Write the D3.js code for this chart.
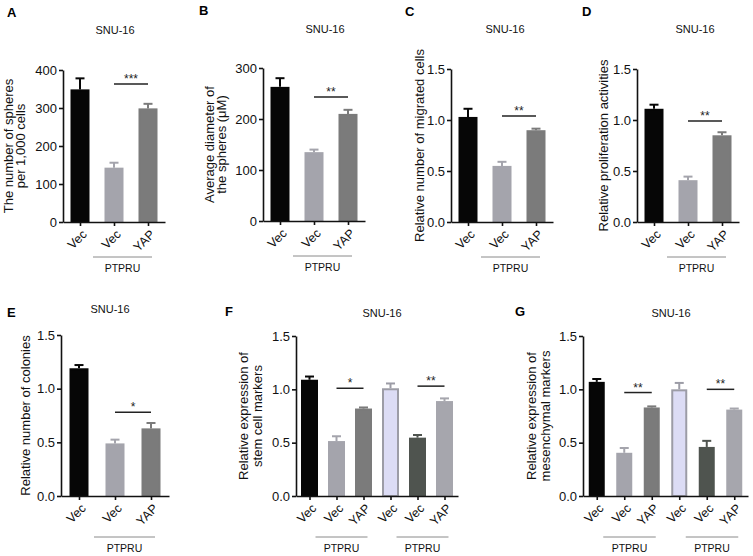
<!DOCTYPE html>
<html>
<head>
<meta charset="utf-8">
<script src="https://cdn.jsdelivr.net/npm/d3@7"></script>
<style>
  body { margin: 0; background: #fff; }
  svg { display: block; }
</style>
</head>
<body>
<div class="figure"></div>
<script>
// ---- data ----
const cats3 = ['Vec', 'Vec', 'YAP'];
const cats6 = ['Vec', 'Vec', 'YAP', 'Vec', 'Vec', 'YAP'];

const spheresMean = [349, 143, 299];
const spheresErr = [29, 13, 12];
const diameterMean = [263, 135, 210];
const diameterErr = [17, 5, 8];
const migratedMean = [1.03, 0.55, 0.90];
const migratedErr = [0.08, 0.04, 0.015];
const prolifMean = [1.11, 0.41, 0.85];
const prolifErr = [0.04, 0.035, 0.03];
const coloniesMean = [1.19, 0.49, 0.63];
const coloniesErr = [0.03, 0.035, 0.05];
const stemMean = [1.09, 0.515, 0.82, 1.01, 0.547, 0.89];
const stemErr = [0.03, 0.045, 0.01, 0.045, 0.025, 0.025];
const mesenMean = [1.07, 0.405, 0.83, 1.0, 0.46, 0.81];
const mesenErr = [0.027, 0.045, 0.01, 0.06, 0.057, 0.01];

const ticks400 = [0, 100, 200, 300, 400];
const ticks300 = [0, 100, 200, 300];
const ticks15 = [0, 0.5, 1.0, 1.5];

// significance: [bar a, bar b, y value, mark]
const sigA = [[1, 2, 363, '***']];
const sigB = [[1, 2, 243, '**']];
const sigC = [[1, 2, 1.04, '**']];
const sigD = [[1, 2, 0.99, '**']];
const sigE = [[1, 2, 0.78, '*']];
const sigF = [[1, 2, 1.01, '*'], [4, 5, 1.03, '**']];
const sigG = [[1, 2, 0.97, '**'], [4, 5, 1.0, '**']];

const groupLabel = 'PTPRU';
const groups3 = [[1, 2]];
const groups6 = [[1, 2], [4, 5]];

const title = 'SNU-16';

// ---- styles ----
const FONT = '"Liberation Sans", Arial, Helvetica, sans-serif';
const fills = ['#060606', '#a4a4ac', '#7b7b7b', '#dcdcf5', '#4f544f', '#a6a6ad'];
const strokes = ['#060606', '#a4a4ac', '#7b7b7b', '#9c9ca6', '#4f544f', '#a6a6ad'];

const panels = [
  { letter: 'A', lx: 7, ly: 17, cats: cats3, mean: spheresMean, err: spheresErr, ticks: ticks400, fmt: d3.format('d'),
    x: 63, top: 70, bottom: 222, step: 34, barW: 19, tx: 115, ty: 34, sig: sigA, groups: groups3, gOff: 35,
    ylab: [['The number of spheres', -50], ['per 1,000 cells', -38]] },
  { letter: 'B', lx: 199, ly: 15, cats: cats3, mean: diameterMean, err: diameterErr, ticks: ticks300, fmt: d3.format('d'),
    x: 263, top: 68, bottom: 221, step: 34, barW: 19, tx: 325, ty: 33, sig: sigB, groups: groups3, gOff: 35,
    ylab: [['Average diameter of', -49], ['the spheres (\u03bcM)', -37]] },
  { letter: 'C', lx: 405, ly: 16, cats: cats3, mean: migratedMean, err: migratedErr, ticks: ticks15, fmt: d3.format('.1f'),
    x: 451, top: 69, bottom: 222, step: 34, barW: 19, tx: 505, ty: 33, sig: sigC, groups: groups3, gOff: 35,
    ylab: [['Relative number of migrated cells', -27]] },
  { letter: 'D', lx: 582, ly: 16, cats: cats3, mean: prolifMean, err: prolifErr, ticks: ticks15, fmt: d3.format('.1f'),
    x: 637, top: 69, bottom: 222, step: 34, barW: 19, tx: 695, ty: 33, sig: sigD, groups: groups3, gOff: 35,
    ylab: [['Relative proliferation activities', -29]] },
  { letter: 'E', lx: 7, ly: 317, cats: cats3, mean: coloniesMean, err: coloniesErr, ticks: ticks15, fmt: d3.format('.1f'),
    x: 61, top: 335, bottom: 496, step: 36, barW: 19, tx: 110, ty: 313, sig: sigE, groups: groups3, gOff: 41,
    ylab: [['Relative number of colonies', -31]] },
  { letter: 'F', lx: 225, ly: 316, cats: cats6, mean: stemMean, err: stemErr, ticks: ticks15, fmt: d3.format('.1f'),
    x: 296, top: 336, bottom: 496, step: 27, barW: 17, tx: 382, ty: 317, sig: sigF, groups: groups6, gOff: 41,
    ylab: [['Relative expression of', -48], ['stem cell markers', -34]] },
  { letter: 'G', lx: 515, ly: 316, cats: cats6, mean: mesenMean, err: mesenErr, ticks: ticks15, fmt: d3.format('.1f'),
    x: 583, top: 336, bottom: 496, step: 27.5, barW: 16, tx: 671, ty: 317, sig: sigG, groups: groups6, gOff: 41,
    ylab: [['Relative expression of', -47], ['mesenchymal markers', -33]] }
];

const svg = d3.select('.figure').append('svg')
  .attr('width', 753)
  .attr('height', 556)
  .style('font-family', FONT);

const drawPanel = p => {
  const n = p.cats.length;
  const g = svg.append('g');

  const x = d3.scalePoint()
    .domain(d3.range(n))
    .range([p.x, p.x + p.step * n])
    .padding(0.5);

  const y = d3.scaleLinear()
    .domain([0, d3.max(p.ticks)])
    .range([p.bottom, p.top]);

  // letter + title
  g.append('text').attr('x', p.lx).attr('y', p.ly)
    .attr('font-size', 13).attr('font-weight', 'bold').text(p.letter);
  g.append('text').attr('x', p.tx).attr('y', p.ty)
    .attr('text-anchor', 'middle').attr('font-size', 11).attr('fill', '#111').text(title);

  // bars with upper error bars
  p.mean.forEach((m, i) => {
    const cx = x(i);
    g.append('line')
      .attr('x1', cx).attr('x2', cx)
      .attr('y1', y(m)).attr('y2', y(m + p.err[i]))
      .attr('stroke', strokes[i]).attr('stroke-width', 2);
    g.append('line')
      .attr('x1', cx - 4.5).attr('x2', cx + 4.5)
      .attr('y1', y(m + p.err[i])).attr('y2', y(m + p.err[i]))
      .attr('stroke', strokes[i]).attr('stroke-width', 2);
    g.append('rect')
      .attr('x', cx - p.barW / 2 + 1)
      .attr('y', y(m) + 1)
      .attr('width', p.barW - 2)
      .attr('height', p.bottom - y(m) - 1)
      .attr('fill', fills[i])
      .attr('stroke', strokes[i])
      .attr('stroke-width', 2);
  });

  // y axis
  const ya = g.append('g')
    .attr('transform', `translate(${p.x},0)`)
    .call(d3.axisLeft(y).tickValues(p.ticks).tickFormat(p.fmt).tickSize(4).tickSizeOuter(0).tickPadding(2));
  // x axis
  const xa = g.append('g')
    .attr('transform', `translate(0,${p.bottom})`)
    .call(d3.axisBottom(x).tickSize(4).tickSizeOuter(0).tickFormat(i => p.cats[i]));

  [ya, xa].forEach(a => {
    a.attr('font-family', FONT).attr('font-size', 13);
    a.select('.domain').attr('stroke', '#111').attr('stroke-width', 1.6);
    a.selectAll('.tick line').attr('stroke', '#111').attr('stroke-width', 1.6);
    a.selectAll('text').attr('fill', '#111');
  });
  xa.attr('font-size', 12.5);
  xa.selectAll('text')
    .attr('x', 0).attr('y', 0).attr('dy', '0.35em')
    .attr('text-anchor', 'end')
    .attr('transform', 'translate(4,10) rotate(-45)');

  // y label
  const mid = (p.top + p.bottom) / 2;
  p.ylab.forEach(([t, off]) => {
    g.append('text')
      .attr('transform', `translate(${p.x + off},${mid}) rotate(-90)`)
      .attr('text-anchor', 'middle')
      .attr('font-size', 13)
      .attr('fill', '#111')
      .text(t);
  });

  // significance
  p.sig.forEach(([a, b, v, mark]) => {
    g.append('line')
      .attr('x1', x(a)).attr('x2', x(b))
      .attr('y1', y(v)).attr('y2', y(v))
      .attr('stroke', '#222').attr('stroke-width', 1.5);
    g.append('text')
      .attr('x', (x(a) + x(b)) / 2).attr('y', y(v) - 1)
      .attr('text-anchor', 'middle').attr('font-size', 12).attr('fill', '#222')
      .text(mark);
  });

  // group brackets
  p.groups.forEach(([a, b]) => {
    const x1 = x(a) - 21, x2 = x(b) + 4;
    g.append('line')
      .attr('x1', x1).attr('x2', x2)
      .attr('y1', p.bottom + p.gOff).attr('y2', p.bottom + p.gOff)
      .attr('stroke', '#8a8a8a').attr('stroke-width', 1);
    g.append('text')
      .attr('x', (x1 + x2) / 2).attr('y', p.bottom + p.gOff + 15)
      .attr('text-anchor', 'middle').attr('font-size', 10.5).attr('fill', '#111')
      .text(groupLabel);
  });
};

panels.forEach(drawPanel);
</script>
</body>
</html>
